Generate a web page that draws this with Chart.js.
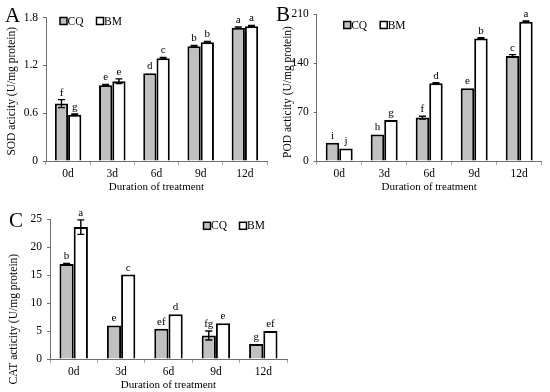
<!DOCTYPE html>
<html>
<head>
<meta charset="utf-8">
<script src="https://cdn.jsdelivr.net/npm/chart.js@4.4.1/dist/chart.umd.min.js"></script>
<style>
  html, body { margin: 0; padding: 0; background: #fff; }
  #wrap { position: relative; width: 550px; height: 392px; overflow: hidden; background: #fff; }
  .pane { position: absolute; }
  .plabel { position: absolute; font-family: "Liberation Serif", "Times New Roman", serif; font-size: 21px; line-height: 21px; color: #000; }
</style>
</head>
<body>
<div id="wrap">
  <div class="pane" style="left:0;top:0;width:275px;height:196px;"><canvas id="cA" width="275" height="196"></canvas></div>
  <div class="pane" style="left:275px;top:0;width:275px;height:196px;"><canvas id="cB" width="275" height="196"></canvas></div>
  <div class="pane" style="left:0;top:196px;width:300px;height:196px;"><canvas id="cC" width="300" height="196"></canvas></div>
  <div class="plabel" style="left:5px;top:5px;">A</div>
  <div class="plabel" style="left:276px;top:4px;">B</div>
  <div class="plabel" style="left:9px;top:210px;">C</div>
</div>
<script>
// ---- data ----
const categories = ['0d', '3d', '6d', '9d', '12d'];

const sodCQ = [0.72, 0.95, 1.10, 1.44, 1.67];
const sodBM = [0.58, 1.00, 1.29, 1.49, 1.69];
const sodCQErr = [0.05, 0.01, 0, 0.01, 0.01];
const sodBMErr = [0.01, 0.03, 0.01, 0.01, 0.01];
const sodCQLetters = ['f', 'e', 'd', 'b', 'a'];
const sodBMLetters = ['g', 'e', 'c', 'b', 'a'];
const sodTicks = [0, 0.6, 1.2, 1.8];

const podCQ = [26, 38, 62, 104, 150];
const podBM = [18, 58.6, 111, 175, 199];
const podCQErr = [0, 0, 2, 0, 2];
const podBMErr = [0, 0, 1, 1, 1];
const podCQLetters = ['i', 'h', 'f', 'e', 'c'];
const podBMLetters = ['j', 'g', 'd', 'b', 'a'];
const podTicks = [0, 70, 140, 210];

const catCQ = [17.0, 6.0, 5.4, 4.2, 2.7];
const catBM = [23.6, 15.1, 8.0, 6.4, 5.0];
const catCQErr = [0.1, 0, 0, 0.8, 0];
const catBMErr = [1.3, 0, 0, 0, 0];
const catCQLetters = ['b', 'e', 'ef', 'fg', 'g'];
const catBMLetters = ['a', 'c', 'd', 'e', 'ef'];
const catTicks = [0, 5, 10, 15, 20, 25];

const seriesNames = ['CQ', 'BM'];
const seriesColors = ['#c0c0c0', '#ffffff'];

// ---- rendering ----
const FONT = '"Liberation Serif", "Times New Roman", serif';
const AXIS = '#707070';

const annotPlugin = {
  id: 'annot',
  afterDatasetsDraw(chart, args, opts) {
    const ctx = chart.ctx;
    const ys = chart.scales.y;
    const ca = chart.chartArea;
    ctx.save();
    chart.data.datasets.forEach((ds, di) => {
      const meta = chart.getDatasetMeta(di);
      meta.data.forEach((bar, i) => {
        const v = ds.data[i];
        const e = ds.errs[i];
        let top = bar.y;
        if (e > 0) {
          const hi = ys.getPixelForValue(v + e);
          const lo = ys.getPixelForValue(v - e);
          ctx.strokeStyle = '#000';
          ctx.lineWidth = 1.4;
          ctx.beginPath();
          ctx.moveTo(bar.x, hi); ctx.lineTo(bar.x, lo);
          ctx.moveTo(bar.x - 3.5, hi); ctx.lineTo(bar.x + 3.5, hi);
          ctx.moveTo(bar.x - 3.5, lo); ctx.lineTo(bar.x + 3.5, lo);
          ctx.stroke();
          top = Math.min(hi, bar.y);
        }
        ctx.fillStyle = '#000';
        ctx.font = '11px ' + FONT;
        ctx.textAlign = 'center';
        ctx.textBaseline = 'alphabetic';
        ctx.fillText(ds.letters[i], bar.x, top - 4);
      });
    });
    // y-axis title
    ctx.save();
    ctx.translate(opts.titleX, (ca.top + ca.bottom) / 2 + opts.titleShift);
    ctx.rotate(-Math.PI / 2);
    ctx.font = '11.5px ' + FONT;
    ctx.textAlign = 'center';
    ctx.textBaseline = 'middle';
    ctx.fillStyle = '#000';
    ctx.fillText(opts.title, 0, 0);
    ctx.restore();
    // legend
    let x = ca.left + opts.x;
    const yc = ca.top + opts.y;
    ctx.font = '11.5px ' + FONT;
    ctx.textBaseline = 'middle';
    ctx.textAlign = 'left';
    chart.data.datasets.forEach((ds, di) => {
      ctx.fillStyle = ds.backgroundColor;
      ctx.fillRect(x, yc - 3.5, 7, 7);
      ctx.strokeStyle = '#000';
      ctx.lineWidth = 1.5;
      ctx.strokeRect(x, yc - 3.5, 7, 7);
      ctx.fillStyle = '#000';
      ctx.fillText(ds.label, x + 7.5, yc + 0.5);
      x += opts.gap;
    });
    ctx.restore();
  }
};

function makeChart(id, cfg) {
  const datasets = [
    { label: seriesNames[0], data: cfg.cq, errs: cfg.cqErr, letters: cfg.cqLetters,
      backgroundColor: seriesColors[0], borderColor: '#000', borderWidth: 2,
      categoryPercentage: 0.6, barPercentage: 1.0 },
    { label: seriesNames[1], data: cfg.bm, errs: cfg.bmErr, letters: cfg.bmLetters,
      backgroundColor: seriesColors[1], borderColor: '#000', borderWidth: 2,
      categoryPercentage: 0.6, barPercentage: 1.0 }
  ];
  return new Chart(document.getElementById(id), {
    type: 'bar',
    data: { labels: categories, datasets },
    options: {
      responsive: false,
      animation: false,
      devicePixelRatio: 1,
      layout: { padding: cfg.padding },
      plugins: {
        legend: { display: false },
        tooltip: { enabled: false },
        annot: Object.assign({ title: cfg.yTitle }, cfg.annot)
      },
      scales: {
        x: {
          grid: { display: true, drawOnChartArea: false, tickLength: 4, color: '#aaa', offset: true },
          border: { display: true, color: AXIS, width: 1 },
          ticks: { color: '#000', font: { family: FONT, size: 11.5 }, padding: 2 },
          title: { display: true, text: 'Duration of treatment', color: '#000',
                   font: { family: FONT, size: 11 }, padding: { top: 0, bottom: cfg.xTitlePad } },
          afterFit: (s) => { s.height = cfg.xHeight; }
        },
        y: {
          min: cfg.ticks[0], max: cfg.ticks[cfg.ticks.length - 1],
          afterBuildTicks: (s) => { s.ticks = cfg.ticks.map(v => ({ value: v })); },
          grid: { display: true, drawOnChartArea: false, tickLength: 3, color: AXIS },
          border: { display: true, color: AXIS, width: 1 },
          ticks: { color: '#000', font: { family: FONT, size: 11.5 }, padding: 5 },
          title: { display: false },
          afterFit: (s) => { s.width = cfg.yWidth; }
        }
      }
    },
    plugins: [annotPlugin]
  });
}

makeChart('cA', {
  cq: sodCQ, bm: sodBM, cqErr: sodCQErr, bmErr: sodBMErr,
  cqLetters: sodCQLetters, bmLetters: sodBMLetters, ticks: sodTicks,
  yTitle: 'SOD acicity (U/mg protein)',
  padding: { left: 0, right: 8, top: 17.5, bottom: 0 },
  yWidth: 46, xHeight: 35, xTitlePad: 2.5,
  annot: { x: 14, y: 3.5, gap: 36.5, titleX: 12, titleShift: 2 }
});

makeChart('cB', {
  cq: podCQ, bm: podBM, cqErr: podCQErr, bmErr: podBMErr,
  cqLetters: podCQLetters, bmLetters: podBMLetters, ticks: podTicks,
  yTitle: 'POD acticity (U/mg protein)',
  padding: { left: 0, right: 8.3, top: 14, bottom: 0 },
  yWidth: 41.7, xHeight: 35, xTitlePad: 2.5,
  annot: { x: 27, y: 11, gap: 36.5, titleX: 13.3, titleShift: 4.5 }
});

makeChart('cC', {
  cq: catCQ, bm: catBM, cqErr: catCQErr, bmErr: catBMErr,
  cqLetters: catCQLetters, bmLetters: catBMLetters, ticks: catTicks,
  yTitle: 'CAT acticity (U/mg protein)',
  padding: { left: 0, right: 13, top: 23.3, bottom: 0 },
  yWidth: 50, xHeight: 33, xTitlePad: 0.5,
  annot: { x: 153.5, y: 6.5, gap: 36, titleX: 14, titleShift: 30 }
});
</script>
</body>
</html>
